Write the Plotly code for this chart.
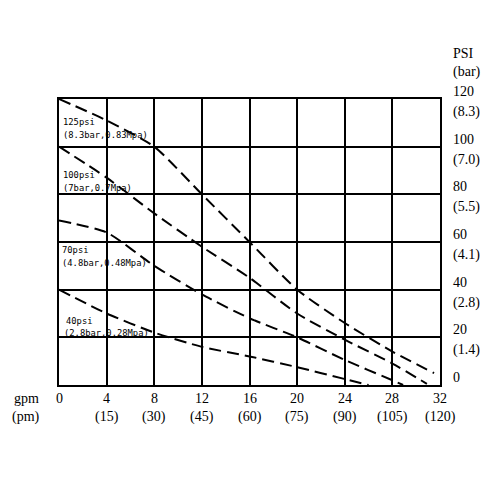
import plotly.graph_objects as go

# ---- data ----
gpm_ticks = [0, 4, 8, 12, 16, 20, 24, 28, 32]
lpm_labels = ["", "(15)", "(30)", "(45)", "(60)", "(75)", "(90)", "(105)", "(120)"]
psi_ticks = [0, 20, 40, 60, 80, 100, 120]
bar_labels = ["", "(1.4)", "(2.8)", "(4.1)", "(5.5)", "(7.0)", "(8.3)"]

flow_125 = [0, 4, 8, 12, 16, 20, 24, 28, 31.5]
psi_125 = [120, 111, 100, 80, 60, 40, 26, 14, 5]
flow_100 = [0, 4, 8, 12, 16, 20, 24, 28, 30.9]
psi_100 = [100, 87, 72, 58, 45, 30, 19, 9, 0.5]
flow_70 = [0, 4, 8, 12, 16, 20, 24, 28, 28.9]
psi_70 = [69, 64, 50, 38, 28, 20, 10.5, 2, 0]
flow_40 = [0, 4, 8, 12, 16, 20, 24, 26]
psi_40 = [40, 30, 22, 16, 12, 7.5, 2.5, 0]

series = [
    (flow_125, psi_125, "125psi", "(8.3bar,0.83Mpa)"),
    (flow_100, psi_100, "100psi", "(7bar,0.7Mpa)"),
    (flow_70, psi_70, "70psi", "(4.8bar,0.48Mpa)"),
    (flow_40, psi_40, "40psi", "(2.8bar,0.28Mpa)"),
]
# label placement (psi of each line, x pixel offsets)
label_pos = [(110.4, 105.1, 3, 3), (88.1, 82.7, 3, 3), (56.6, 51.2, 2, 2), (26.9, 21.8, 6, 4)]

serif = "Liberation Serif"
mono = "DejaVu Sans Mono"

fig = go.Figure()
for x, y, _, _ in series:
    fig.add_trace(go.Scatter(x=x, y=y, mode="lines",
                             line=dict(color="black", width=2, dash="12px,6px", shape="spline", smoothing=0.6),
                             hoverinfo="skip", showlegend=False))

ann = []
lf = dict(family=mono, size=8.8, color="black")
for (x, y, l1, l2), (y1, y2, s1, s2) in zip(series, label_pos):
    ann.append(dict(x=0, y=y1, xref="x", yref="y", text=l1, showarrow=False,
                    xanchor="left", yanchor="middle", xshift=s1, borderpad=0, font=lf))
    ann.append(dict(x=0, y=y2, xref="x", yref="y", text=l2, showarrow=False,
                    xanchor="left", yanchor="middle", xshift=s2, borderpad=0, font=lf))

tf = dict(family=serif, size=14, color="black")
for g, lp in zip(gpm_ticks, lpm_labels):
    ann.append(dict(x=g, y=0, xref="x", yref="paper", text=str(g), showarrow=False,
                    xanchor="center", yanchor="middle", yshift=-13, font=tf))
    if lp:
        ann.append(dict(x=g, y=0, xref="x", yref="paper", text=lp, showarrow=False,
                        xanchor="center", yanchor="middle", yshift=-32, font=tf))
for p, bl in zip(psi_ticks, bar_labels):
    ann.append(dict(x=1, y=p, xref="paper", yref="y", text=str(p), showarrow=False,
                    xanchor="left", yanchor="middle", xshift=11, yshift=7.5, font=tf))
    if bl:
        ann.append(dict(x=1, y=p, xref="paper", yref="y", text=bl, showarrow=False,
                        xanchor="left", yanchor="middle", xshift=11, yshift=-13, font=tf))
ann.append(dict(x=1, y=120, xref="paper", yref="y", text="PSI", showarrow=False,
                xanchor="left", yanchor="middle", xshift=11, yshift=46, font=tf))
ann.append(dict(x=1, y=120, xref="paper", yref="y", text="(bar)", showarrow=False,
                xanchor="left", yanchor="middle", xshift=11, yshift=27, font=tf))
ann.append(dict(x=0, y=0, xref="paper", yref="paper", text="gpm", showarrow=False,
                xanchor="center", yanchor="middle", xshift=-33, yshift=-13, font=tf))
ann.append(dict(x=0, y=0, xref="paper", yref="paper", text="(pm)", showarrow=False,
                xanchor="center", yanchor="middle", xshift=-33, yshift=-32, font=tf))

fig.update_layout(
    width=500, height=500,
    margin=dict(l=51, r=68, t=91, b=123),
    paper_bgcolor="white", plot_bgcolor="white",
    annotations=ann,
    xaxis=dict(range=[0, 32], tickvals=gpm_ticks, showticklabels=False, showgrid=True,
               gridcolor="black", gridwidth=2, zeroline=False, showline=True, linecolor="black",
               linewidth=2, mirror=True, ticks="", fixedrange=True),
    yaxis=dict(range=[0, 120], tickvals=psi_ticks, showticklabels=False, showgrid=True,
               gridcolor="black", gridwidth=2, zeroline=False, showline=True, linecolor="black",
               linewidth=2, mirror=True, ticks="", fixedrange=True),
)
fig.write_html("out.html")
